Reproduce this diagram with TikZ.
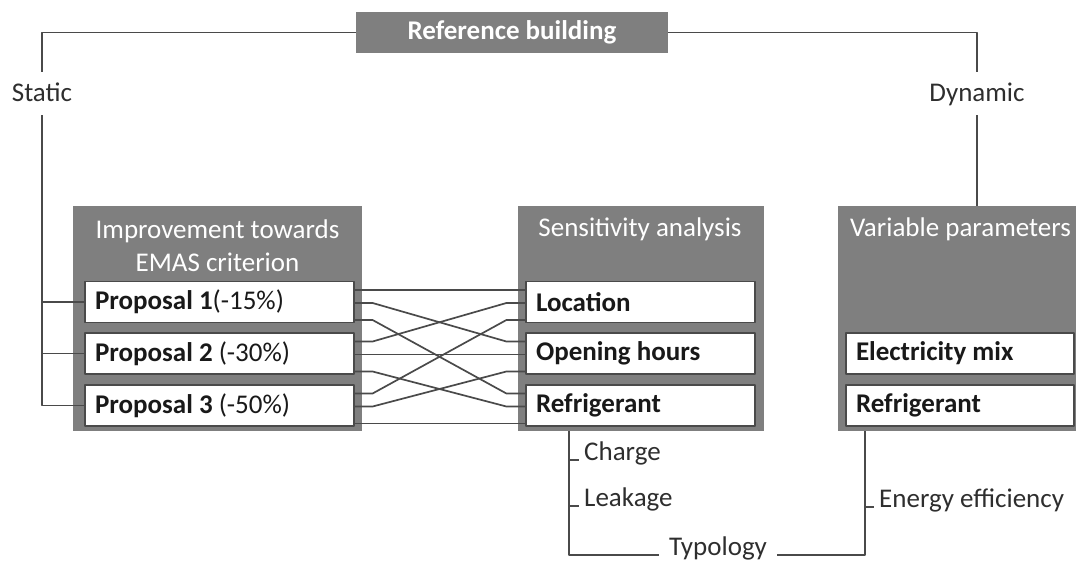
\documentclass[tikz,border=0pt]{standalone}
\usepackage{fontspec}
\setmainfont{Carlito}
\definecolor{boxgray}{HTML}{7F7F7F}
\definecolor{linegray}{HTML}{4A4A4A}
\definecolor{txtgray}{HTML}{2E2E2E}
\begin{document}
\begin{tikzpicture}[x=1pt, y=-1pt, font=\fontsize{27}{33}\selectfont, line join=round,
	headbox/.style={fill=boxgray, text=white, inner sep=0pt, minimum width=312pt, minimum height=41pt},
	groupbox/.style={fill=boxgray, inner sep=0pt, minimum width=246pt, minimum height=225pt},
	grouptitle/.style={text=white, align=center, inner sep=0pt},
	itembox/.style={draw=linegray, line width=1.2pt, fill=white, text=black!90, inner xsep=10pt, inner ysep=0pt, minimum height=41pt, align=flush left},
	wire/.style={draw=linegray, line width=1.7pt},
	lbl/.style={text=txtgray, inner xsep=5pt, inner ysep=0pt},
	side/.style={lbl, anchor=base, text height=17pt, text depth=0pt, inner ysep=13pt}]
	\useasboundingbox (0,0) rectangle (1076,567);
	\node[headbox] (ref) at (512,32.5) {\bfseries Reference building};
	\node[side] (static) at (42,102) {Static};
	\node[side] (dynamic) at (977,102) {Dynamic};
	\node[groupbox, minimum width=289pt] (impr) at (217.5,318.5) {};
	\node[groupbox] (sens) at (641,318.5) {};
	\node[groupbox] (var) at (961,318.5) {};
	\node[grouptitle] (imprtitle) at (217.5,246) {Improvement towards\\EMAS criterion};
	\node[grouptitle, anchor=base] (senstitle) at (640,236) {Sensitivity analysis};
	\node[grouptitle, anchor=base] (vartitle) at (960.5,236) {Variable parameters};
	\node[itembox, text width=249pt] (p1) at (219.5,302) {\textbf{Proposal 1}(-15\%)};
	\node[itembox, text width=249pt] (p2) at (219.5,353.5) {\textbf{Proposal 2} (-30\%)};
	\node[itembox, text width=249pt] (p3) at (219.5,405.5) {\textbf{Proposal 3} (-50\%)};
	\node[itembox, text width=209pt] (s1) at (640.5,302) {\textbf{Location}};
	\node[itembox, text width=209pt] (s2) at (640.5,353.5) {\textbf{Opening hours}};
	\node[itembox, text width=209pt] (s3) at (640.5,405.5) {\textbf{Refrigerant}};
	\node[itembox, text width=208pt] (v1) at (960,353.5) {\textbf{Electricity mix}};
	\node[itembox, text width=208pt] (v2) at (960,405.5) {\textbf{Refrigerant}};
	\draw[wire] (static.north) |- (ref.west);
	\draw[wire] (dynamic.north) |- (ref.east);
	\draw[wire] (static.south) |- (p3.west);
	\foreach \p in {p1,p2}
		\draw[wire] (static.south |- \p.west) -- (\p.west);
	\draw[wire] (dynamic.south) -- (dynamic.south |- var.north);
	\foreach \i/\a in {1/12,2/-1,3/-18}
		\foreach \j/\b in {1/12,2/-1,3/-18}
			\draw[wire] ([yshift=\b]p\i.east) -- ++(18,0) -- ([xshift=-19,yshift=\a]s\j.west) -- ([yshift=\a]s\j.west);
	\coordinate (rt) at ([xshift=51]sens.south west);
	\coordinate (vt) at ([xshift=27]var.south west);
	\node[lbl, anchor=base west] (charge) at (579,460) {Charge};
	\node[lbl, anchor=base west] (leak) at (579,506) {Leakage};
	\node[lbl, anchor=base, inner xsep=10pt] (typo) at (718,555) {Typology};
	\node[lbl, anchor=base west] (energy) at (874,507) {Energy efficiency};
	\draw[wire] (rt) |- (typo.base west);
	\draw[wire] (typo.base east) -| (vt);
	\draw[wire] (rt |- charge.base) -- (charge.base west);
	\draw[wire] (rt |- leak.base) -- (leak.base west);
	\draw[wire] (vt |- energy.base) -- (energy.base west);
\end{tikzpicture}
\end{document}
